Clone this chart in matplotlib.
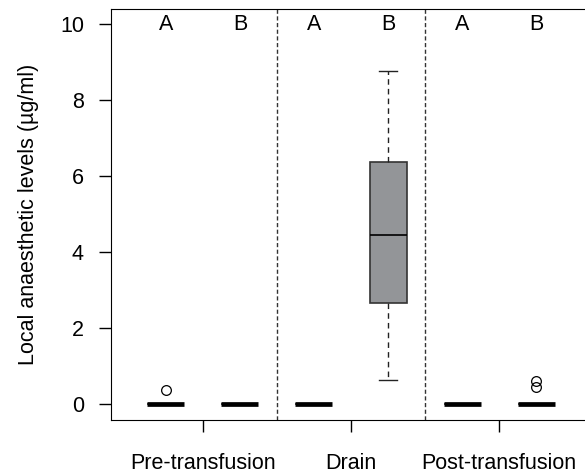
import matplotlib
matplotlib.use("Agg")
import matplotlib.pyplot as plt

plt.rcParams['font.family'] = ['Liberation Sans', 'DejaVu Sans']

# data
groups = ["Pre-transfusion", "Drain", "Post-transfusion"]
subgroups = ["A", "B"]
q1 = [0, 0, 0, 2.65, 0, 0]
med = [0, 0, 0, 4.45, 0, 0]
q3 = [0, 0, 0, 6.38, 0, 0]
whislo = [0, 0, 0, 0.64, 0, 0]
whishi = [0, 0, 0, 8.77, 0, 0]
fliers = [[0.38], [], [], [], [], [0.61, 0.45]]

positions = list(range(1, 7))
stats = []
for i in range(6):
    stats.append({"q1": q1[i], "med": med[i], "q3": q3[i],
                  "whislo": whislo[i], "whishi": whishi[i], "fliers": fliers[i]})

fig = plt.figure(figsize=(5.85, 4.73), dpi=100)
ax = fig.add_axes([111 / 585, 53 / 473, 480 / 585, 411 / 473])

bp = ax.bxp(stats, positions=positions, widths=0.5, capwidths=0.25,
            patch_artist=True, manage_ticks=False,
            boxprops=dict(facecolor="#939598", edgecolor="#333333", linewidth=1.2),
            whiskerprops=dict(color="#222222", linestyle=(0, (4, 3)), linewidth=1),
            capprops=dict(color="#222222", linewidth=1),
            medianprops=dict(color="black", linewidth=1.2),
            flierprops=dict(marker="o", markerfacecolor="none",
                            markeredgecolor="black", markersize=7, markeredgewidth=0.9))

# degenerate boxes: thick median bar
for i, line in enumerate(bp["medians"]):
    if q1[i] == q3[i]:
        line.set_linewidth(3.4)
        line.set_solid_capstyle("butt")

for x in [2.5, 4.5]:
    ax.axvline(x, color="#333333", linestyle=(0, (3, 1.8)), linewidth=1.0)

for i, p in enumerate(positions):
    ax.text(p, 10, subgroups[i % 2], ha="center", va="center", fontsize=15.5)

ax.set_xlim(0.257, 6.743)
ax.set_ylim(-0.42, 10.4)
ax.set_yticks([0, 2, 4, 6, 8, 10])
ax.set_xticks([1.5, 3.5, 5.5])
ax.set_xticklabels(groups)
ax.tick_params(axis="both", length=8.5, width=1, labelsize=15.5)
ax.tick_params(axis="y", pad=11)
ax.tick_params(axis="x", pad=15)
ax.set_ylabel("Local anaesthetic levels (µg/ml)", fontsize=15.5, labelpad=15)

fig.savefig("out.png", dpi=100)
